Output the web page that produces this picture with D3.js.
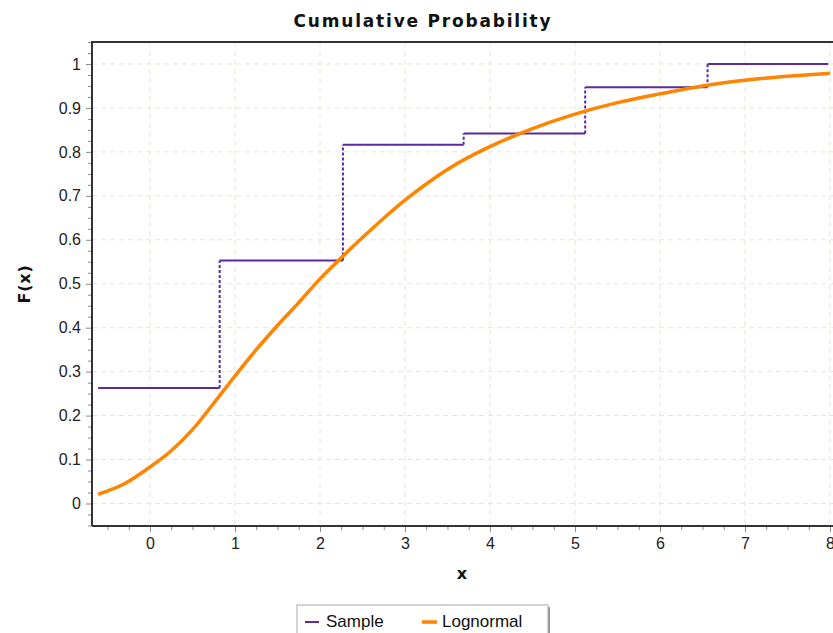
<!DOCTYPE html>
<html>
<head>
<meta charset="utf-8">
<script src="https://cdn.jsdelivr.net/npm/d3@7"></script>
<style>
  html, body { margin: 0; padding: 0; background: #fff; }
  svg { display: block; }
</style>
</head>
<body>
<svg id="chart" width="833" height="633"></svg>
<script>
// Empirical CDF of the sample: step edges and the level held after each edge
const sampleEdges = [-0.61, 0.82, 2.27, 3.69, 5.12, 6.56, 7.98];
const sampleLevels = [0.263, 0.553, 0.816, 0.842, 0.947, 1.0];

// Fitted lognormal CDF
const curveX = [-0.61, -0.3, 0.0, 0.25, 0.5, 0.75, 1.0, 1.25, 1.5, 1.75, 2.0, 2.25, 2.5,
                2.75, 3.0, 3.25, 3.5, 3.75, 4.0, 4.5, 5.0, 5.5, 6.0, 6.5, 7.0, 7.5, 8.0];
const curveF = [0.021, 0.045, 0.083, 0.120, 0.168, 0.228, 0.290, 0.350, 0.405, 0.457, 0.511, 0.559, 0.605,
                0.649, 0.690, 0.727, 0.760, 0.788, 0.812, 0.853, 0.886, 0.912, 0.932, 0.950, 0.963, 0.972, 0.979];

const xTicks = [0, 1, 2, 3, 4, 5, 6, 7, 8];
const yTicks = [0, 0.1, 0.2, 0.3, 0.4, 0.5, 0.6, 0.7, 0.8, 0.9, 1];
const seriesNames = ["Sample", "Lognormal"];

const SAMPLE_COLOR = "#5a2a9e";
const CURVE_COLOR = "#ff8400";
const GRID_COLOR = "#e9e4d3";

const svg = d3.select("#chart");
const plot = { left: 92, top: 42, right: 840, bottom: 526 };

const x = d3.scaleLinear().domain([-0.682, 8.118]).range([plot.left, plot.right]);
const y = d3.scaleLinear().domain([-0.0512, 1.05]).range([plot.bottom, plot.top]);

// Title and axis titles
svg.append("text")
  .attr("x", 423).attr("y", 27)
  .attr("text-anchor", "middle")
  .attr("font-family", "DejaVu Sans")
  .attr("font-weight", "bold")
  .attr("font-size", 17)
  .attr("letter-spacing", 1.8)
  .attr("fill", "#111")
  .text("Cumulative Probability");

svg.append("text")
  .attr("transform", "translate(30,284) rotate(-90)")
  .attr("text-anchor", "middle")
  .attr("font-family", "DejaVu Sans")
  .attr("font-weight", "bold")
  .attr("font-size", 16)
  .attr("letter-spacing", 0.8)
  .attr("fill", "#111")
  .text("F(x)");

svg.append("text")
  .attr("x", 462).attr("y", 579)
  .attr("text-anchor", "middle")
  .attr("font-family", "DejaVu Sans")
  .attr("font-weight", "bold")
  .attr("font-size", 16)
  .attr("fill", "#111")
  .text("x");

// Dashed grid
const grid = svg.append("g")
  .attr("stroke", GRID_COLOR)
  .attr("stroke-width", 1)
  .attr("stroke-dasharray", "5,4");
grid.selectAll("line.v").data(xTicks).join("line")
  .attr("class", "v")
  .attr("x1", d => x(d)).attr("x2", d => x(d))
  .attr("y1", plot.top).attr("y2", plot.bottom);
grid.selectAll("line.h").data(yTicks).join("line")
  .attr("class", "h")
  .attr("x1", plot.left).attr("x2", plot.right)
  .attr("y1", d => y(d)).attr("y2", d => y(d));

// Minor ticks
const xMinor = d3.range(-0.5, 8.01, 0.25).filter(v => Math.abs(v - Math.round(v)) > 1e-6);
const yMinor = d3.range(-0.05, 1.051, 0.025).filter(v => Math.abs(v * 10 - Math.round(v * 10)) > 1e-6);

svg.append("g")
  .attr("transform", `translate(0,${plot.bottom})`)
  .call(d3.axisBottom(x).tickValues(xMinor).tickSize(4).tickFormat(""))
  .call(g => g.select(".domain").remove())
  .call(g => g.selectAll(".tick line").attr("stroke", "#8a8a8a"));

svg.append("g")
  .attr("transform", `translate(${plot.left},0)`)
  .call(d3.axisLeft(y).tickValues(yMinor).tickSize(4).tickFormat(""))
  .call(g => g.select(".domain").remove())
  .call(g => g.selectAll(".tick line").attr("stroke", "#8a8a8a"));

// Major axes
const fmt = d => String(+d.toFixed(1));
svg.append("g")
  .attr("transform", `translate(0,${plot.bottom})`)
  .call(d3.axisBottom(x).tickValues(xTicks).tickSize(6).tickPadding(6).tickFormat(fmt))
  .call(g => g.select(".domain").remove())
  .call(g => g.selectAll(".tick line").attr("stroke", "#8a8a8a"))
  .call(g => g.selectAll(".tick text")
    .attr("font-family", "Liberation Sans, Arial, sans-serif")
    .attr("font-size", 16)
    .attr("fill", "#222"));

svg.append("g")
  .attr("transform", `translate(${plot.left},0)`)
  .call(d3.axisLeft(y).tickValues(yTicks).tickSize(6).tickPadding(5).tickFormat(fmt))
  .call(g => g.select(".domain").remove())
  .call(g => g.selectAll(".tick line").attr("stroke", "#8a8a8a"))
  .call(g => g.selectAll(".tick text")
    .attr("font-family", "Liberation Sans, Arial, sans-serif")
    .attr("font-size", 16)
    .attr("fill", "#222"));

// Plot frame: left, top and bottom edges
svg.append("path")
  .attr("d", `M${plot.left},${plot.bottom}H${plot.right}M${plot.left},${plot.bottom}V${plot.top}H${plot.right}`)
  .attr("fill", "none")
  .attr("stroke", "#333")
  .attr("stroke-width", 2);

// Sample step function: solid treads, dashed risers
const sample = svg.append("g").attr("stroke", SAMPLE_COLOR).attr("stroke-width", 2).attr("fill", "none");
sample.selectAll("line.tread").data(sampleLevels).join("line")
  .attr("class", "tread")
  .attr("x1", (d, i) => x(sampleEdges[i]))
  .attr("x2", (d, i) => x(sampleEdges[i + 1]))
  .attr("y1", d => y(d)).attr("y2", d => y(d));
sample.selectAll("line.riser").data(sampleLevels.slice(1)).join("line")
  .attr("class", "riser")
  .attr("stroke-dasharray", "3,2")
  .attr("x1", (d, i) => x(sampleEdges[i + 1]))
  .attr("x2", (d, i) => x(sampleEdges[i + 1]))
  .attr("y1", (d, i) => y(sampleLevels[i]))
  .attr("y2", d => y(d));

// Lognormal CDF
const curve = curveX.map((v, i) => [v, curveF[i]]);
svg.append("path")
  .datum(curve)
  .attr("fill", "none")
  .attr("stroke", CURVE_COLOR)
  .attr("stroke-width", 3.5)
  .attr("stroke-linejoin", "round")
  .attr("d", d3.line().x(d => x(d[0])).y(d => y(d[1])).curve(d3.curveMonotoneX));

// Legend
const legend = svg.append("g").attr("transform", "translate(297,605)");
legend.append("rect")
  .attr("x", 2).attr("y", 2).attr("width", 251).attr("height", 40)
  .attr("fill", "#9a9a9a");
legend.append("rect")
  .attr("x", 0).attr("y", 0).attr("width", 251).attr("height", 40)
  .attr("fill", "#fff").attr("stroke", "#a8a8a8").attr("stroke-width", 1);

const items = [
  { name: seriesNames[0], color: SAMPLE_COLOR, width: 2, x0: 8, x1: 22, tx: 29 },
  { name: seriesNames[1], color: CURVE_COLOR, width: 3.5, x0: 125, x1: 140, tx: 145 }
];
items.forEach(it => {
  legend.append("line")
    .attr("x1", it.x0).attr("x2", it.x1).attr("y1", 17).attr("y2", 17)
    .attr("stroke", it.color).attr("stroke-width", it.width);
  legend.append("text")
    .attr("x", it.tx).attr("y", 22)
    .attr("font-family", "Liberation Sans, Arial, sans-serif")
    .attr("font-size", 17)
    .attr("fill", "#111")
    .text(it.name);
});
</script>
</body>
</html>
